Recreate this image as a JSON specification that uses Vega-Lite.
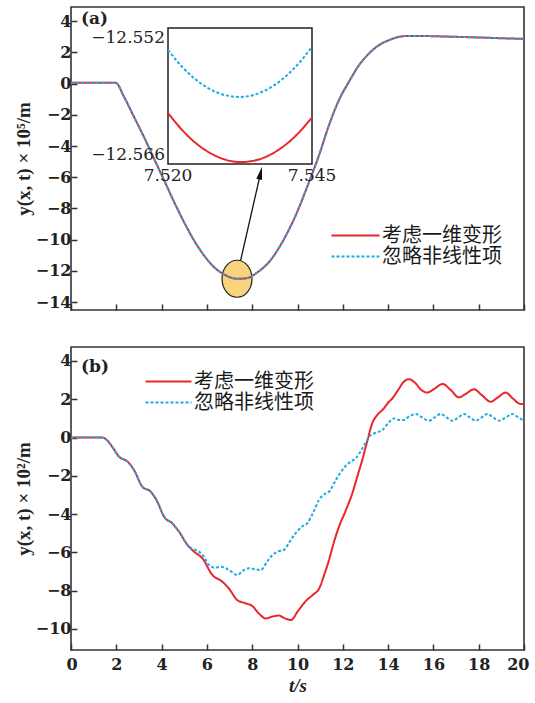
{
  "$schema": "https://vega.github.io/schema/vega-lite/v6.json",
  "padding": {"left": 13, "top": 6, "right": 4, "bottom": 4},
  "background": "white",
  "config": {
    "view": {"stroke": "#333333", "strokeWidth": 1.6},
    "font": "DejaVu Serif",
    "axis": {
      "grid": false, "domain": false,
      "tickSize": -6, "tickColor": "#333333", "tickWidth": 1.5,
      "labelFont": "DejaVu Serif", "labelFontWeight": "bold", "labelFontSize": 16, "labelColor": "#222222", "labelPadding": 6,
      "labelOverlap": false, "labelBound": false, "labelFlush": false,
      "titleFont": "Liberation Serif", "titleFontWeight": "bold", "titleFontSize": 19, "titleColor": "#222222", "titlePadding": 2
    },
    "legend": {
      "title": null, "symbolType": "stroke", "symbolStrokeWidth": 2.2,
      "labelFont": "Noto Sans CJK SC", "labelFontSize": 20, "labelColor": "#1a1a1a",
      "labelOffset": 1, "padding": 0, "rowPadding": 0
    }
  },
  "datasets": {
    "topMain": [
      {"t": 0, "a": 0.05, "b": 0.05},
      {"t": 1.0, "a": 0.05, "b": 0.05},
      {"t": 1.97, "a": 0.05, "b": 0.05},
      {"t": 2.34, "a": -0.85, "b": -0.85},
      {"t": 2.78, "a": -2.13, "b": -2.13},
      {"t": 3.22, "a": -3.42, "b": -3.42},
      {"t": 3.66, "a": -4.8, "b": -4.8},
      {"t": 4.11, "a": -6.19, "b": -6.19},
      {"t": 4.55, "a": -7.58, "b": -7.58},
      {"t": 4.99, "a": -8.87, "b": -8.87},
      {"t": 5.43, "a": -10.04, "b": -10.04},
      {"t": 5.87, "a": -11.0, "b": -11.0},
      {"t": 6.31, "a": -11.75, "b": -11.75},
      {"t": 6.75, "a": -12.22, "b": -12.22},
      {"t": 7.05, "a": -12.42, "b": -12.42},
      {"t": 7.34, "a": -12.5, "b": -12.5},
      {"t": 7.62, "a": -12.49, "b": -12.49},
      {"t": 7.93, "a": -12.38, "b": -12.38},
      {"t": 8.2, "a": -12.12, "b": -12.12},
      {"t": 8.74, "a": -11.43, "b": -11.43},
      {"t": 9.33, "a": -10.15, "b": -10.15},
      {"t": 9.92, "a": -8.44, "b": -8.44},
      {"t": 10.51, "a": -6.3, "b": -6.3},
      {"t": 10.95, "a": -4.59, "b": -4.59},
      {"t": 11.39, "a": -2.67, "b": -2.67},
      {"t": 11.83, "a": -1.06, "b": -1.06},
      {"t": 12.27, "a": 0.11, "b": 0.11},
      {"t": 12.72, "a": 1.18, "b": 1.18},
      {"t": 13.16, "a": 1.93, "b": 1.93},
      {"t": 13.6, "a": 2.46, "b": 2.46},
      {"t": 14.04, "a": 2.78, "b": 2.78},
      {"t": 14.48, "a": 2.99, "b": 2.99},
      {"t": 14.92, "a": 3.05, "b": 3.05},
      {"t": 15.36, "a": 3.05, "b": 3.05},
      {"t": 16.0, "a": 3.03, "b": 3.03},
      {"t": 17.0, "a": 2.99, "b": 2.99},
      {"t": 18.0, "a": 2.95, "b": 2.95},
      {"t": 19.0, "a": 2.9, "b": 2.9},
      {"t": 20.0, "a": 2.86, "b": 2.86}
    ],
    "topInset": [
      {"t": 7.52, "a": -12.56075, "b": -12.55426},
      {"t": 7.5225, "a": -12.56253, "b": -12.55603},
      {"t": 7.525, "a": -12.56393, "b": -12.55739},
      {"t": 7.5275, "a": -12.56493, "b": -12.55836},
      {"t": 7.53, "a": -12.56556, "b": -12.55893},
      {"t": 7.5325, "a": -12.5658, "b": -12.5591},
      {"t": 7.535, "a": -12.56565, "b": -12.55887},
      {"t": 7.5375, "a": -12.56512, "b": -12.55823},
      {"t": 7.54, "a": -12.5642, "b": -12.5572},
      {"t": 7.5425, "a": -12.5629, "b": -12.55577},
      {"t": 7.545, "a": -12.56121, "b": -12.55394}
    ],
    "bottom": [
      {"t": 0, "y": 0, "s": "考虑一维变形"},
      {"t": 1.0, "y": 0, "s": "考虑一维变形"},
      {"t": 1.38, "y": 0, "s": "考虑一维变形"},
      {"t": 1.6, "y": -0.15, "s": "考虑一维变形"},
      {"t": 1.82, "y": -0.48, "s": "考虑一维变形"},
      {"t": 2.12, "y": -1.0, "s": "考虑一维变形"},
      {"t": 2.5, "y": -1.26, "s": "考虑一维变形"},
      {"t": 2.78, "y": -1.69, "s": "考虑一维变形"},
      {"t": 3.15, "y": -2.57, "s": "考虑一维变形"},
      {"t": 3.52, "y": -2.83, "s": "考虑一维变形"},
      {"t": 3.81, "y": -3.35, "s": "考虑一维变形"},
      {"t": 4.11, "y": -4.14, "s": "考虑一维变形"},
      {"t": 4.47, "y": -4.48, "s": "考虑一维变形"},
      {"t": 4.77, "y": -4.92, "s": "考虑一维变形"},
      {"t": 5.14, "y": -5.61, "s": "考虑一维变形"},
      {"t": 5.43, "y": -5.96, "s": "考虑一维变形"},
      {"t": 5.8, "y": -6.31, "s": "考虑一维变形"},
      {"t": 6.24, "y": -7.18, "s": "考虑一维变形"},
      {"t": 6.68, "y": -7.53, "s": "考虑一维变形"},
      {"t": 6.98, "y": -7.9, "s": "考虑一维变形"},
      {"t": 7.34, "y": -8.49, "s": "考虑一维变形"},
      {"t": 7.71, "y": -8.66, "s": "考虑一维变形"},
      {"t": 8.0, "y": -8.8, "s": "考虑一维变形"},
      {"t": 8.3, "y": -9.2, "s": "考虑一维变形"},
      {"t": 8.6, "y": -9.45, "s": "考虑一维变形"},
      {"t": 8.9, "y": -9.35, "s": "考虑一维变形"},
      {"t": 9.18, "y": -9.3, "s": "考虑一维变形"},
      {"t": 9.45, "y": -9.45, "s": "考虑一维变形"},
      {"t": 9.72, "y": -9.53, "s": "考虑一维变形"},
      {"t": 10.0, "y": -9.1, "s": "考虑一维变形"},
      {"t": 10.36, "y": -8.55, "s": "考虑一维变形"},
      {"t": 10.7, "y": -8.2, "s": "考虑一维变形"},
      {"t": 10.95, "y": -7.9, "s": "考虑一维变形"},
      {"t": 11.2, "y": -7.1, "s": "考虑一维变形"},
      {"t": 11.39, "y": -6.4, "s": "考虑一维变形"},
      {"t": 11.6, "y": -5.5, "s": "考虑一维变形"},
      {"t": 11.83, "y": -4.66, "s": "考虑一维变形"},
      {"t": 12.1, "y": -3.9, "s": "考虑一维变形"},
      {"t": 12.42, "y": -2.91, "s": "考虑一维变形"},
      {"t": 12.65, "y": -2.0, "s": "考虑一维变形"},
      {"t": 12.86, "y": -1.17, "s": "考虑一维变形"},
      {"t": 13.1, "y": -0.1, "s": "考虑一维变形"},
      {"t": 13.3, "y": 0.75, "s": "考虑一维变形"},
      {"t": 13.5, "y": 1.15, "s": "考虑一维变形"},
      {"t": 13.75, "y": 1.44, "s": "考虑一维变形"},
      {"t": 14.04, "y": 1.87, "s": "考虑一维变形"},
      {"t": 14.19, "y": 2.05, "s": "考虑一维变形"},
      {"t": 14.45, "y": 2.5, "s": "考虑一维变形"},
      {"t": 14.7, "y": 2.92, "s": "考虑一维变形"},
      {"t": 14.92, "y": 3.05, "s": "考虑一维变形"},
      {"t": 15.2, "y": 2.85, "s": "考虑一维变形"},
      {"t": 15.45, "y": 2.5, "s": "考虑一维变形"},
      {"t": 15.73, "y": 2.35, "s": "考虑一维变形"},
      {"t": 16.05, "y": 2.55, "s": "考虑一维变形"},
      {"t": 16.4, "y": 2.8, "s": "考虑一维变形"},
      {"t": 16.75, "y": 2.5, "s": "考虑一维变形"},
      {"t": 17.13, "y": 2.1, "s": "考虑一维变形"},
      {"t": 17.45, "y": 2.3, "s": "考虑一维变形"},
      {"t": 17.79, "y": 2.52, "s": "考虑一维变形"},
      {"t": 18.15, "y": 2.2, "s": "考虑一维变形"},
      {"t": 18.53, "y": 1.87, "s": "考虑一维变形"},
      {"t": 18.85, "y": 2.1, "s": "考虑一维变形"},
      {"t": 19.19, "y": 2.35, "s": "考虑一维变形"},
      {"t": 19.5, "y": 2.05, "s": "考虑一维变形"},
      {"t": 19.85, "y": 1.75, "s": "考虑一维变形"},
      {"t": 20.0, "y": 1.75, "s": "考虑一维变形"},
      {"t": 0, "y": 0, "s": "忽略非线性项"},
      {"t": 1.0, "y": 0, "s": "忽略非线性项"},
      {"t": 1.38, "y": 0, "s": "忽略非线性项"},
      {"t": 1.6, "y": -0.15, "s": "忽略非线性项"},
      {"t": 1.82, "y": -0.48, "s": "忽略非线性项"},
      {"t": 2.12, "y": -1.0, "s": "忽略非线性项"},
      {"t": 2.5, "y": -1.26, "s": "忽略非线性项"},
      {"t": 2.78, "y": -1.69, "s": "忽略非线性项"},
      {"t": 3.15, "y": -2.57, "s": "忽略非线性项"},
      {"t": 3.52, "y": -2.83, "s": "忽略非线性项"},
      {"t": 3.81, "y": -3.35, "s": "忽略非线性项"},
      {"t": 4.11, "y": -4.14, "s": "忽略非线性项"},
      {"t": 4.47, "y": -4.48, "s": "忽略非线性项"},
      {"t": 4.77, "y": -4.92, "s": "忽略非线性项"},
      {"t": 5.21, "y": -5.7, "s": "忽略非线性项"},
      {"t": 5.45, "y": -5.85, "s": "忽略非线性项"},
      {"t": 5.65, "y": -5.96, "s": "忽略非线性项"},
      {"t": 5.85, "y": -6.2, "s": "忽略非线性项"},
      {"t": 6.09, "y": -6.66, "s": "忽略非线性项"},
      {"t": 6.35, "y": -6.8, "s": "忽略非线性项"},
      {"t": 6.61, "y": -6.75, "s": "忽略非线性项"},
      {"t": 6.98, "y": -6.92, "s": "忽略非线性项"},
      {"t": 7.34, "y": -7.18, "s": "忽略非线性项"},
      {"t": 7.6, "y": -6.95, "s": "忽略非线性项"},
      {"t": 7.86, "y": -6.83, "s": "忽略非线性项"},
      {"t": 8.1, "y": -6.88, "s": "忽略非线性项"},
      {"t": 8.38, "y": -6.92, "s": "忽略非线性项"},
      {"t": 8.65, "y": -6.5, "s": "忽略非线性项"},
      {"t": 8.89, "y": -6.14, "s": "忽略非线性项"},
      {"t": 9.15, "y": -5.95, "s": "忽略非线性项"},
      {"t": 9.4, "y": -5.87, "s": "忽略非线性项"},
      {"t": 9.65, "y": -5.45, "s": "忽略非线性项"},
      {"t": 9.92, "y": -5.0, "s": "忽略非线性项"},
      {"t": 10.2, "y": -4.65, "s": "忽略非线性项"},
      {"t": 10.43, "y": -4.48, "s": "忽略非线性项"},
      {"t": 10.7, "y": -3.9, "s": "忽略非线性项"},
      {"t": 10.95, "y": -3.26, "s": "忽略非线性项"},
      {"t": 11.2, "y": -2.95, "s": "忽略非线性项"},
      {"t": 11.39, "y": -2.83, "s": "忽略非线性项"},
      {"t": 11.7, "y": -2.2, "s": "忽略非线性项"},
      {"t": 11.98, "y": -1.69, "s": "忽略非线性项"},
      {"t": 12.3, "y": -1.3, "s": "忽略非线性项"},
      {"t": 12.57, "y": -1.08, "s": "忽略非线性项"},
      {"t": 12.9, "y": -0.5, "s": "忽略非线性项"},
      {"t": 13.16, "y": 0.04, "s": "忽略非线性项"},
      {"t": 13.45, "y": 0.25, "s": "忽略非线性项"},
      {"t": 13.75, "y": 0.39, "s": "忽略非线性项"},
      {"t": 14.04, "y": 0.8, "s": "忽略非线性项"},
      {"t": 14.26, "y": 1.0, "s": "忽略非线性项"},
      {"t": 14.48, "y": 0.92, "s": "忽略非线性项"},
      {"t": 14.7, "y": 0.92, "s": "忽略非线性项"},
      {"t": 14.92, "y": 1.09, "s": "忽略非线性项"},
      {"t": 15.22, "y": 1.23, "s": "忽略非线性项"},
      {"t": 15.5, "y": 1.05, "s": "忽略非线性项"},
      {"t": 15.8, "y": 0.88, "s": "忽略非线性项"},
      {"t": 16.06, "y": 1.05, "s": "忽略非线性项"},
      {"t": 16.32, "y": 1.23, "s": "忽略非线性项"},
      {"t": 16.58, "y": 1.05, "s": "忽略非线性项"},
      {"t": 16.84, "y": 0.88, "s": "忽略非线性项"},
      {"t": 17.1, "y": 1.05, "s": "忽略非线性项"},
      {"t": 17.35, "y": 1.23, "s": "忽略非线性项"},
      {"t": 17.6, "y": 1.05, "s": "忽略非线性项"},
      {"t": 17.87, "y": 0.88, "s": "忽略非线性项"},
      {"t": 18.13, "y": 1.05, "s": "忽略非线性项"},
      {"t": 18.38, "y": 1.23, "s": "忽略非线性项"},
      {"t": 18.64, "y": 1.05, "s": "忽略非线性项"},
      {"t": 18.9, "y": 0.88, "s": "忽略非线性项"},
      {"t": 19.2, "y": 1.05, "s": "忽略非线性项"},
      {"t": 19.48, "y": 1.23, "s": "忽略非线性项"},
      {"t": 19.75, "y": 1.05, "s": "忽略非线性项"},
      {"t": 20.0, "y": 0.88, "s": "忽略非线性项"}
    ]
  },
  "vconcat": [
    {
      "width": 453, "height": 303,
      "layer": [
        {
          "encoding": {
            "x": {"field": "t", "type": "quantitative", "scale": {"domain": [0, 20], "nice": false, "zero": false}, "axis": {"values": [0, 2, 4, 6, 8, 10, 12, 14, 16, 18, 20], "labels": false, "title": null}},
            "y": {"field": "y", "type": "quantitative", "scale": {"domain": [-14.5, 4.9], "nice": false, "zero": false}, "axis": {"values": [-14, -12, -10, -8, -6, -4, -2, 0, 2, 4], "labelOverlap": false, "tickCount": 10, "title": "y(x, t) × 10⁵/m"}}
          },
          "layer": [
            {
              "data": {"values": [{"t": 7.33, "y": -12.5}]},
              "mark": {"type": "point", "shape": "M-0.81,0A0.81,1,0,1,1,0.81,0A0.81,1,0,1,1,-0.81,0Z", "size": 1369, "filled": true, "fill": "#f8d57c", "stroke": "#222222", "strokeWidth": 1.2, "opacity": 1}
            },
            {
              "data": {"name": "topMain"},
              "transform": [{"fold": ["a", "b"], "as": ["k", "y"]}, {"filter": "datum.k === 'a'"}, {"calculate": "'考虑一维变形'", "as": "s"}],
              "mark": {"type": "line", "interpolate": "monotone", "strokeWidth": 2},
              "encoding": {
                "color": {"field": "s", "type": "nominal", "scale": {"domain": ["考虑一维变形", "忽略非线性项"], "range": ["#e8262b", "#1eaae2"]}, "legend": {"orient": "none", "legendX": 259, "legendY": 218, "symbolSize": 2304, "clipHeight": 21}},
                "strokeDash": {"field": "s", "type": "nominal", "scale": {"domain": ["考虑一维变形", "忽略非线性项"], "range": [[1, 0], [3, 2]]}, "legend": {"orient": "none", "legendX": 259, "legendY": 218, "symbolSize": 2304, "clipHeight": 21}}
              }
            },
            {
              "data": {"name": "topMain"},
              "transform": [{"fold": ["a", "b"], "as": ["k", "y"]}, {"filter": "datum.k === 'b'"}, {"calculate": "'忽略非线性项'", "as": "s"}],
              "mark": {"type": "line", "interpolate": "monotone", "strokeWidth": 2},
              "encoding": {
                "color": {"field": "s", "type": "nominal"},
                "strokeDash": {"field": "s", "type": "nominal"}
              }
            },
            {
              "data": {"values": [{"t": 7.49, "y": -11.32, "t2": 8.37, "y2": -5.73}]},
              "mark": {"type": "rule", "color": "#111111", "strokeWidth": 1.3},
              "encoding": {
                "x2": {"field": "t2"},
                "y2": {"field": "y2"}
              }
            },
            {
              "data": {"values": [{"t": 8.37, "y": -5.73}]},
              "mark": {"type": "point", "shape": "M0,-1L0.45,1L-0.45,1Z", "size": 169, "angle": 12.8, "filled": true, "fill": "#111111", "opacity": 1, "strokeWidth": 0}
            },
            {
              "data": {"values": [{"t": 0.44, "y": 4.15, "lab": "(a)"}]},
              "mark": {"type": "text", "align": "left", "baseline": "middle", "font": "DejaVu Serif", "fontWeight": "bold", "fontSize": 17, "color": "#222222"},
              "encoding": {"text": {"field": "lab"}}
            }
          ]
        },
        {
          "encoding": {
            "x": {"field": "t", "type": "quantitative", "scale": {"domain": [7.52, 7.545], "range": [97, 241], "nice": false, "zero": false}, "axis": null},
            "y": {"field": "y", "type": "quantitative", "scale": {"domain": [-12.566, -12.552], "range": [157, 21], "nice": false, "zero": false}, "axis": null}
          },
          "layer": [
            {
              "data": {"values": [{"t": 7.52, "t2": 7.545, "y": -12.566, "y2": -12.552}]},
              "mark": {"type": "rect", "fill": "white", "stroke": "#222222", "strokeWidth": 1.5},
              "encoding": {"x2": {"field": "t2"}, "y2": {"field": "y2"}}
            },
            {
              "data": {"name": "topInset"},
              "transform": [{"fold": ["a", "b"], "as": ["k", "y"]}, {"filter": "datum.k === 'a'"}, {"calculate": "'考虑一维变形'", "as": "s"}],
              "mark": {"type": "line", "interpolate": "monotone", "strokeWidth": 2},
              "encoding": {
                "color": {"field": "s", "type": "nominal"},
                "strokeDash": {"field": "s", "type": "nominal"}
              }
            },
            {
              "data": {"name": "topInset"},
              "transform": [{"fold": ["a", "b"], "as": ["k", "y"]}, {"filter": "datum.k === 'b'"}, {"calculate": "'忽略非线性项'", "as": "s"}],
              "mark": {"type": "line", "interpolate": "monotone", "strokeWidth": 2},
              "encoding": {
                "color": {"field": "s", "type": "nominal"},
                "strokeDash": {"field": "s", "type": "nominal"}
              }
            },
            {
              "data": {"values": [{"t": 7.52, "y": -12.552, "lab": "−12.552"}]},
              "mark": {"type": "text", "align": "right", "baseline": "top", "dx": -3, "dy": 2, "font": "DejaVu Serif", "fontSize": 17, "color": "#222222"},
              "encoding": {"text": {"field": "lab"}}
            },
            {
              "data": {"values": [{"t": 7.52, "y": -12.566, "lab": "−12.566"}]},
              "mark": {"type": "text", "align": "right", "baseline": "bottom", "dx": -3, "font": "DejaVu Serif", "fontSize": 17, "color": "#222222"},
              "encoding": {"text": {"field": "lab"}}
            },
            {
              "data": {"values": [{"t": 7.52, "y": -12.566, "lab": "7.520"}, {"t": 7.545, "y": -12.566, "lab": "7.545"}]},
              "mark": {"type": "text", "align": "center", "baseline": "top", "dy": 4, "font": "DejaVu Serif", "fontSize": 17, "color": "#222222"},
              "encoding": {"text": {"field": "lab"}}
            }
          ]
        }
      ],
      "resolve": {"scale": {"x": "independent", "y": "independent"}}
    },
    {
      "width": 453, "height": 303,
      "layer": [
        {
          "data": {"name": "bottom"},
          "transform": [{"filter": "datum.s === '考虑一维变形'"}],
          "mark": {"type": "line", "interpolate": "monotone", "strokeWidth": 2},
          "encoding": {
            "x": {"field": "t", "type": "quantitative", "scale": {"domain": [0, 20], "nice": false, "zero": false}, "axis": {"values": [0, 2, 4, 6, 8, 10, 12, 14, 16, 18, 20], "title": "t/s", "titleFontStyle": "italic", "labelPadding": 12, "titlePadding": 4, "labelFlush": true, "labelFlushOffset": 5}},
            "y": {"field": "y", "type": "quantitative", "scale": {"domain": [-11.1, 4.73], "nice": false, "zero": false}, "axis": {"values": [-10, -8, -6, -4, -2, 0, 2, 4], "labelOverlap": false, "title": "y(x, t) × 10²/m"}},
            "color": {"field": "s", "type": "nominal", "scale": {"domain": ["考虑一维变形", "忽略非线性项"], "range": ["#e8262b", "#1eaae2"]}, "legend": {"orient": "none", "legendX": 73, "legendY": 24, "symbolSize": 2116, "clipHeight": 21}},
            "strokeDash": {"field": "s", "type": "nominal", "scale": {"domain": ["考虑一维变形", "忽略非线性项"], "range": [[1, 0], [3, 2]]}, "legend": {"orient": "none", "legendX": 73, "legendY": 24, "symbolSize": 2116, "clipHeight": 21}}
          }
        },
        {
          "data": {"name": "bottom"},
          "transform": [{"filter": "datum.s === '忽略非线性项'"}],
          "mark": {"type": "line", "interpolate": "monotone", "strokeWidth": 2},
          "encoding": {
            "x": {"field": "t", "type": "quantitative"},
            "y": {"field": "y", "type": "quantitative"},
            "color": {"field": "s", "type": "nominal"},
            "strokeDash": {"field": "s", "type": "nominal"}
          }
        },
        {
          "data": {"values": [{"t": 0.44, "y": 3.66, "lab": "(b)"}]},
          "mark": {"type": "text", "align": "left", "baseline": "middle", "font": "DejaVu Serif", "fontWeight": "bold", "fontSize": 17, "color": "#222222"},
          "encoding": {
            "x": {"field": "t", "type": "quantitative"},
            "y": {"field": "y", "type": "quantitative"},
            "text": {"field": "lab"}
          }
        }
      ]
    }
  ],
  "spacing": 34,
  "resolve": {
    "scale": {"x": "independent", "y": "independent", "color": "independent", "strokeDash": "independent"},
    "legend": {"color": "independent", "strokeDash": "independent"}
  }
}
